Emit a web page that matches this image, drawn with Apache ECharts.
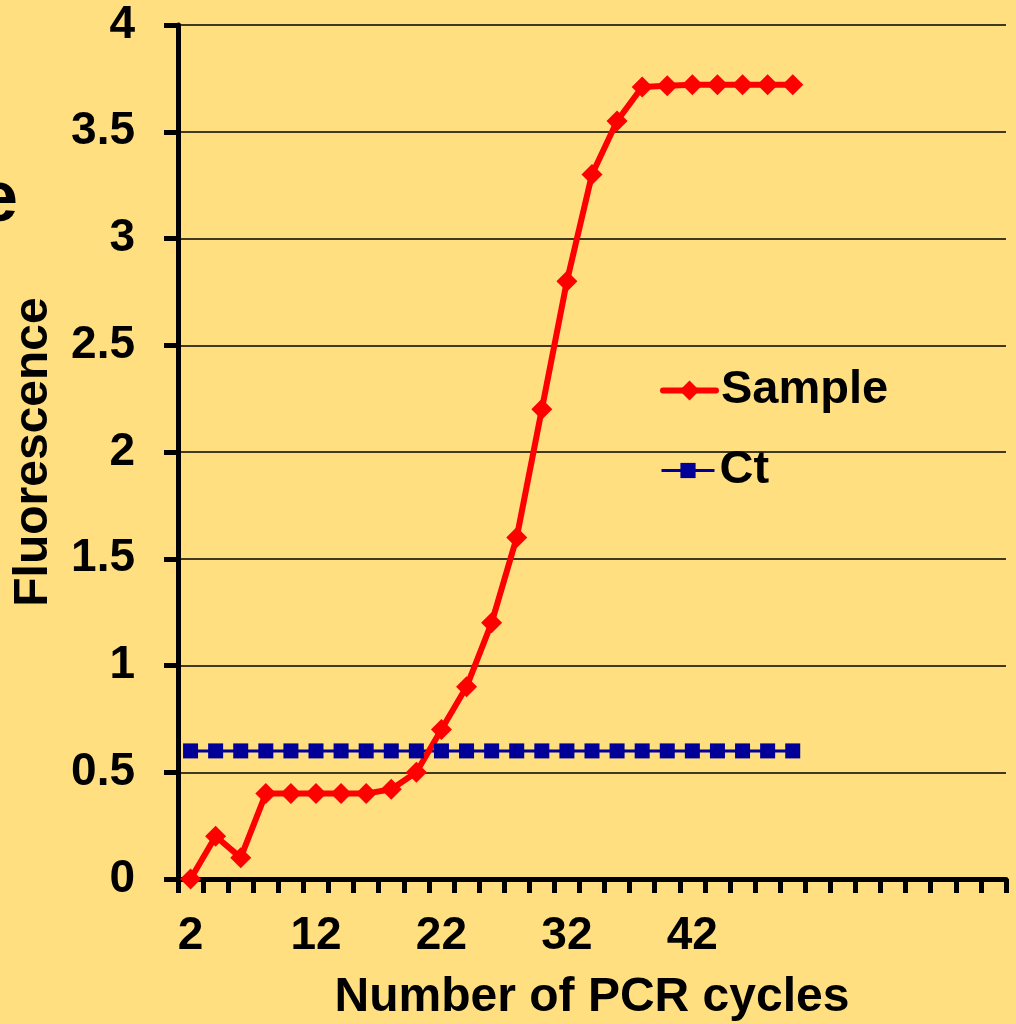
<!DOCTYPE html>
<html>
<head>
<meta charset="utf-8">
<script src="https://cdn.jsdelivr.net/npm/echarts@6/dist/echarts.min.js"></script>
<style>
html,body{margin:0;padding:0;background:#FFDF80;}
#chart{width:1016px;height:1024px;}
</style>
</head>
<body>
<div id="chart"></div>
<script>
// Category slots on the x axis (cycle numbers); only cycles up to 50 carry data/labels
var cycles = ['2','4','6','8','10','12','14','16','18','20','22','24','26','28','30','32','34','36','38','40','42','44','46','48','50','52','54','56','58','60','62','64','66'];
var maxLabeledCycle = 50;
var sampleValues = [0, 0.2, 0.1, 0.4, 0.4, 0.4, 0.4, 0.4, 0.42, 0.5, 0.7, 0.9, 1.2, 1.6, 2.2, 2.8, 3.3, 3.55, 3.71, 3.715, 3.72, 3.72, 3.72, 3.72, 3.72];
var ctValues = [0.6, 0.6, 0.6, 0.6, 0.6, 0.6, 0.6, 0.6, 0.6, 0.6, 0.6, 0.6, 0.6, 0.6, 0.6, 0.6, 0.6, 0.6, 0.6, 0.6, 0.6, 0.6, 0.6, 0.6, 0.6];
var seriesNames = ['Sample', 'Ct'];
var xTitle = 'Number of PCR cycles';
var yTitle = 'Fluorescence';
var clippedText = 'e';

var FONT = '"Liberation Sans", Arial, sans-serif';
var chart = echarts.init(document.getElementById('chart'));
chart.setOption({
  backgroundColor: '#FFDF80',
  animation: false,
  grid: {left: 178, top: 25, right: 10, bottom: 145, containLabel: false},
  xAxis: {
    type: 'category',
    data: cycles,
    boundaryGap: true,
    axisLine: {lineStyle: {color: '#000', width: 5}},
    axisTick: {show: true, interval: 0, length: 14, lineStyle: {color: '#000', width: 5}},
    axisLabel: {
      interval: 4, margin: 34, color: '#000', fontSize: 46, fontWeight: 'bold', fontFamily: FONT,
      formatter: function (v) { return (+v <= maxLabeledCycle) ? v : ''; }
    },
    splitLine: {show: false}
  },
  yAxis: {
    type: 'value',
    min: 0, max: 4, interval: 0.5,
    axisLine: {show: true, lineStyle: {color: '#000', width: 5}},
    axisTick: {show: true, length: 14, lineStyle: {color: '#000', width: 5}},
    axisLabel: {margin: 43, color: '#000', fontSize: 46, fontWeight: 'bold', fontFamily: FONT},
    splitLine: {show: true, lineStyle: {color: '#000', width: 1.5}}
  },
  legend: [
    {
      data: [seriesNames[0]], orient: 'vertical', left: 660, top: 367,
      itemWidth: 53, itemHeight: 25, padding: 0,
      lineStyle: {width: 6, cap: 'round'},
      textStyle: {color: '#000', fontSize: 47, fontWeight: 'bold', fontFamily: FONT}
    },
    {
      data: [seriesNames[1]], orient: 'vertical', left: 660, top: 447,
      itemWidth: 53, itemHeight: 19, padding: 0,
      lineStyle: {width: 3},
      textStyle: {color: '#000', fontSize: 47, fontWeight: 'bold', fontFamily: FONT}
    }
  ],
  series: [
    {
      name: seriesNames[1], type: 'line', data: ctValues,
      symbol: 'rect', symbolSize: 15, showAllSymbol: true,
      itemStyle: {color: '#000099'},
      lineStyle: {color: '#000099', width: 3}
    },
    {
      name: seriesNames[0], type: 'line', data: sampleValues,
      symbol: 'diamond', symbolSize: 21, showAllSymbol: true,
      itemStyle: {color: '#FF0000'},
      lineStyle: {color: '#FF0000', width: 6, cap: 'round', join: 'round'}
    }
  ],
  graphic: [
    {type: 'text', x: 592, y: 998, style: {text: xTitle, fill: '#000', font: 'bold 48px ' + FONT, textAlign: 'center', textVerticalAlign: 'middle'}},
    {type: 'text', x: 34, y: 452, rotation: Math.PI / 2, style: {text: yTitle, fill: '#000', font: 'bold 48px ' + FONT, textAlign: 'center', textVerticalAlign: 'middle'}},
    {type: 'text', x: 18, y: 201, style: {text: clippedText, fill: '#000', font: 'bold 72px ' + FONT, textAlign: 'right', textVerticalAlign: 'middle'}}
  ]
});
</script>
</body>
</html>
